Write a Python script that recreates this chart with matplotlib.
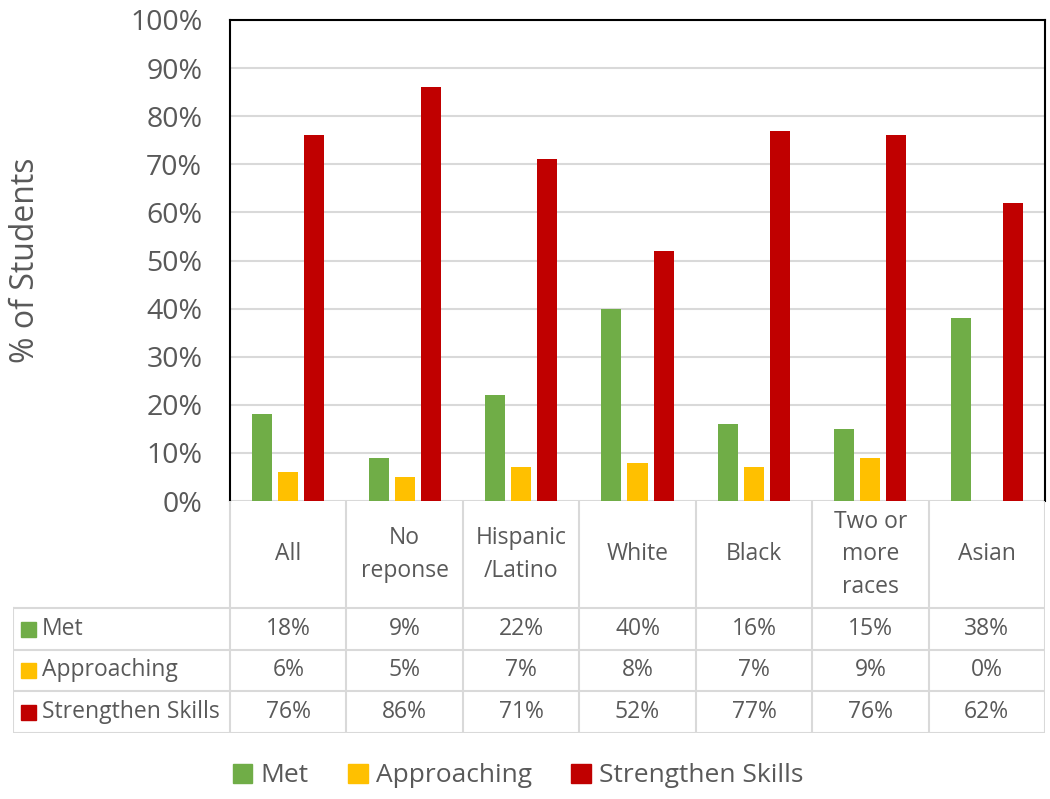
import numpy as np
import matplotlib.pyplot as plt
from matplotlib.patches import Rectangle

groups = ['All', 'No\nreponse', 'Hispanic\n/Latino', 'White', 'Black', 'Two or\nmore\nraces', 'Asian']
series = ['Met', 'Approaching', 'Strengthen Skills']
met = [18, 9, 22, 40, 16, 15, 38]
approaching = [6, 5, 7, 8, 7, 9, 0]
strengthen = [76, 86, 71, 52, 77, 76, 62]
colors = ['#70AD47', '#FFC000', '#C00000']

plt.rcParams['font.family'] = ['Open Sans', 'DejaVu Sans']
txt = '#595959'
grid = '#D9D9D9'

W, H = 1050, 799
fig = plt.figure(figsize=(W / 100, H / 100), dpi=100)

def box(x0, y0, x1, y1):
    return [x0 / W, 1 - y1 / H, (x1 - x0) / W, (y1 - y0) / H]

# main bar area
ax = fig.add_axes(box(230, 20, 1045, 501))
n = len(groups)
x = np.arange(n) + 0.5
bw = 20 / 116.4
step = 26 / 116.4
for k, vals in enumerate([met, approaching, strengthen]):
    ax.bar(x + (k - 1) * step, vals, width=bw, color=colors[k], zorder=3)
ax.set_xlim(0, n)
ax.set_ylim(0, 100)
ax.set_yticks(range(0, 101, 10))
ax.set_yticklabels([f'{v}%' for v in range(0, 101, 10)], fontsize=20.5, color=txt)
ax.set_xticks([])
ax.tick_params(axis='y', length=0, pad=20)
ax.yaxis.grid(True, color=grid, lw=1.5, zorder=0)
for s in ['left', 'top', 'right']:
    ax.spines[s].set_color('black')
    ax.spines[s].set_linewidth(1.5)
ax.spines['bottom'].set_visible(False)
ax.set_ylabel('% of Students', fontsize=23, color=txt)
ax.yaxis.set_label_coords((42 - 230) / 815, 0.5)

# data table below
tab = fig.add_axes(box(13, 501, 1045, 733))
left = -(230 - 13) / 116.4
tab.set_xlim(left, n)
tab.set_ylim(733, 501)
tab.axis('off')
row_y = [501, 608, 650, 691, 733]
lw = 1.5
for i in range(n + 1):
    tab.plot([i, i], [501, 733], color=grid, lw=lw)
tab.plot([left, left], [608, 733], color=grid, lw=lw)
for yy in row_y[1:]:
    tab.plot([left, n], [yy, yy], color=grid, lw=lw)
for i, g in enumerate(groups):
    tab.text(i + 0.5, (501 + 608) / 2, g, ha='center', va='center',
             fontsize=16.5, color=txt, linespacing=1.45)
for r, vals in enumerate([met, approaching, strengthen]):
    yc = (row_y[r + 1] + row_y[r + 2]) / 2
    tab.add_patch(Rectangle((left + 0.07, yc - 7.5), 0.13, 15, color=colors[r]))
    tab.text(left + 0.25, yc, series[r], ha='left', va='center', fontsize=16.5, color=txt)
    for i, v in enumerate(vals):
        tab.text(i + 0.5, yc, f'{v}%', ha='center', va='center', fontsize=16.5, color=txt)

# legend
handles = [Rectangle((0, 0), 1, 1, color=c) for c in colors]
fig.legend(handles, series, loc='center', bbox_to_anchor=(518 / W, 1 - 776 / H),
           ncol=3, frameon=False, fontsize=19, labelcolor=txt,
           handlelength=0.75, handleheight=0.75, handletextpad=0.3, columnspacing=1.5)

fig.savefig('out.png', dpi=100)
